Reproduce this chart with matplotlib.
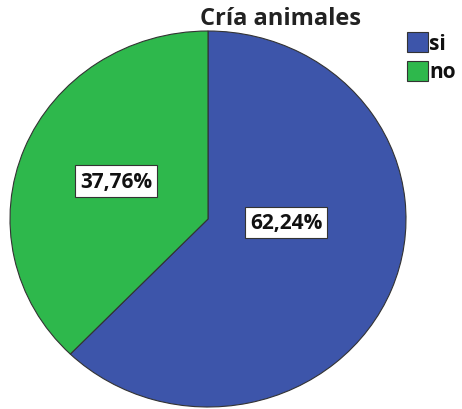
import matplotlib.pyplot as plt
from matplotlib.patches import Rectangle

categorias = ["si", "no"]
porcentajes = [62.24, 37.76]
colores = ["#3D55AA", "#2EB84C"]

fig = plt.figure(figsize=(4.62, 4.10), dpi=100)
fig.patch.set_facecolor("white")

# pie stretched slightly wider than tall
ax = fig.add_axes([10 / 462, 2 / 410, 396 / 462, 376 / 410])
wedges, _ = ax.pie(porcentajes, colors=colores, startangle=90, counterclock=False,
                   wedgeprops=dict(edgecolor="#333333", linewidth=0.8))
ax.set_aspect("auto")
ax.set_xlim(-1.0, 1.0)
ax.set_ylim(-1.0, 1.0)

caja = dict(boxstyle="square,pad=0.25", facecolor="white", edgecolor="#333333", linewidth=0.8)
pos_etiquetas = [(0.394, -0.02), (-0.465, 0.202)]
for (x, y), p in zip(pos_etiquetas, porcentajes):
    ax.text(x, y, f"{p:.2f}%".replace(".", ","), ha="center", va="center",
            fontsize=15, fontweight="bold", family="Open Sans", color="#111111", bbox=caja)

fig.text(280 / 462, 1 - 19 / 410, "Cría animales", ha="center", va="center",
         fontsize=17, fontweight="bold", family="Open Sans", color="#222222")

# legend drawn by hand so it fits the narrow right margin
for i, (c, nombre) in enumerate(zip(colores, categorias)):
    top = 33 + i * 29
    fig.patches.append(Rectangle((407 / 462, 1 - (top + 20) / 410), 21 / 462, 20 / 410,
                                 transform=fig.transFigure, facecolor=c,
                                 edgecolor="#333333", linewidth=0.8))
    fig.text(429 / 462, 1 - (top + 11) / 410, nombre, ha="left", va="center",
             fontsize=15, fontweight="bold", family="Open Sans", color="#111111")

fig.savefig("out.png", dpi=100)
